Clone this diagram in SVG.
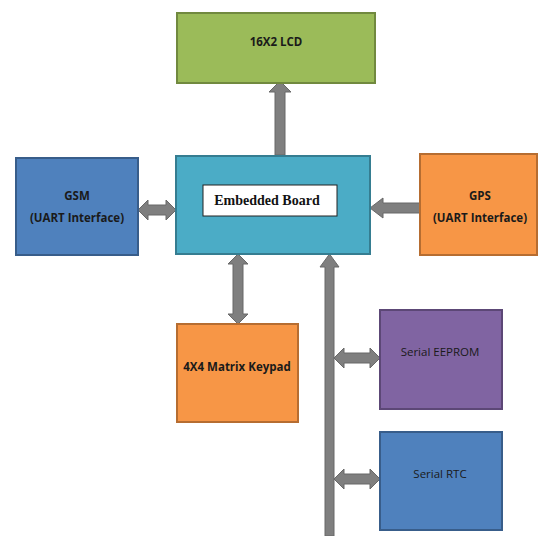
<svg xmlns="http://www.w3.org/2000/svg" width="538" height="536" viewBox="0 0 538 536">
<style>
.box{stroke-width:2}
.green{fill:#9BBB59;stroke:#71893F}
.teal{fill:#4BACC6;stroke:#357D91}
.blue{fill:#4F81BD;stroke:#385D8A}
.orange{fill:#F79646;stroke:#B66D31}
.purple{fill:#8064A2;stroke:#5C4776}
.t{font-family:"Open Sans","Liberation Sans",sans-serif;font-size:11.5px;fill:#1a1a1a;text-anchor:middle}
.b{font-weight:bold}
.arr{fill:#7F7F7F;stroke:#686868;stroke-width:1}
</style>
<rect width="538" height="536" fill="#fff"/>
<g id="connectors">
<polygon class="arr" points="275,155 275,92 269,92 280,81 291,92 285,92 285,155"/>
<polygon class="arr" points="138,210 148,200 148,205 166,205 166,200 176,210 166,220 166,215 148,215 148,220"/>
<polygon class="arr" points="370,208 383,198 383,203 420,203 420,213 383,213 383,218"/>
<polygon class="arr" points="238,254 248,264 243,264 243,314 248,314 238,324 228,314 233,314 233,264 228,264"/>
<polygon class="arr" points="329.5,254 339,267 334,267 334,536 325,536 325,267 320,267"/>
<polygon class="arr" points="334,358 344,348 344,353 370,353 370,348 380,358 370,368 370,363 344,363 344,368"/>
<polygon class="arr" points="334,479 344,469 344,474 370,474 370,469 380,479 370,489 370,484 344,484 344,489"/>
</g>
<g id="lcd">
<rect class="box green" x="177" y="13" width="198" height="70"/>
<text class="t b" x="276" y="46">16X2 LCD</text>
</g>
<g id="board">
<rect class="box teal" x="176" y="156" width="194" height="98"/>
<rect x="203" y="185" width="134" height="31" fill="#fff" stroke="#222" stroke-width="1"/>
<text x="267" y="205" font-family="'Liberation Serif',serif" font-weight="bold" font-size="14" fill="#111" text-anchor="middle">Embedded Board</text>
</g>
<g id="gsm">
<rect class="box blue" x="16" y="158" width="122" height="97"/>
<text class="t b" x="77" y="200">GSM</text>
<text class="t b" x="77" y="222">(UART Interface)</text>
</g>
<g id="gps">
<rect class="box orange" x="420" y="154" width="117" height="101"/>
<text class="t b" x="480" y="200">GPS</text>
<text class="t b" x="480" y="222">(UART Interface)</text>
</g>
<g id="keypad">
<rect class="box orange" x="177" y="324" width="121" height="98"/>
<text class="t b" x="237" y="371">4X4 Matrix Keypad</text>
</g>
<g id="eeprom">
<rect class="box purple" x="380" y="310" width="122" height="99"/>
<text class="t" x="440" y="356">Serial EEPROM</text>
</g>
<g id="rtc">
<rect class="box blue" x="380" y="432" width="122" height="98"/>
<text class="t" x="440" y="478">Serial RTC</text>
</g>
</svg>
